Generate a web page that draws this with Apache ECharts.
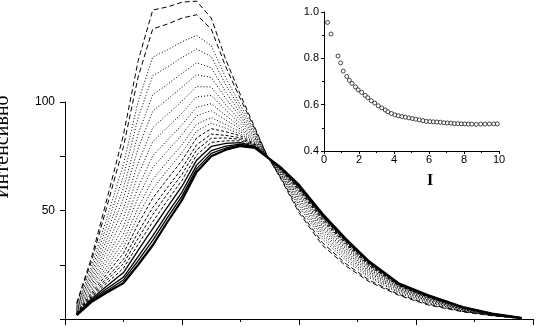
<!DOCTYPE html>
<html>
<head>
<meta charset="utf-8">
<script src="https://cdn.jsdelivr.net/npm/echarts@6/dist/echarts.min.js"></script>
<style>
html,body{margin:0;padding:0;background:#fff;}
#chart{width:536px;height:327px;}
</style>
</head>
<body>
<div id="chart"></div>
<script>
// сетка по оси X (спектры)
var xGrid = [0.2, 0.45, 0.7, 1.0, 1.25, 1.5, 1.75, 2.0, 2.25, 2.5, 2.75, 3.0, 3.25, 3.45, 3.7, 4.0, 4.4, 4.8, 5.2, 5.7, 6.2, 6.8, 7.3, 7.8];

// спектры, от первого (самый высокий) до последнего (жирный)
var spec01 = [7.4, 28.0, 53.5, 85.0, 119.0, 142.4, 143.8, 146.0, 146.5, 138.7, 119.4, 103.2, 88.0, 75.6, 64.0, 49.0, 34.0, 24.5, 17.2, 11.0, 6.5, 3.3, 1.5, 0.2];
var spec02 = [7.0, 26.4, 50.2, 79.5, 111.5, 133.7, 135.9, 138.7, 140.2, 133.6, 116.1, 101.3, 87.3, 75.5, 64.5, 50.0, 35.2, 25.5, 17.9, 11.4, 6.9, 3.5, 1.6, 0.2];
var spec03 = [6.3, 24.0, 45.2, 71.3, 100.2, 120.7, 124.0, 127.8, 130.7, 126.0, 111.1, 98.5, 86.2, 75.4, 65.1, 51.6, 36.9, 27.0, 19.1, 12.1, 7.4, 3.7, 1.7, 0.3];
var spec04 = [5.8, 22.3, 41.9, 65.9, 92.7, 112.1, 116.1, 120.5, 124.4, 120.9, 107.8, 96.6, 85.4, 75.4, 65.6, 52.6, 38.1, 28.0, 19.8, 12.5, 7.8, 3.9, 1.8, 0.3];
var spec05 = [5.4, 20.7, 38.6, 60.4, 85.2, 103.4, 108.1, 113.2, 118.1, 115.8, 104.5, 94.7, 84.7, 75.3, 66.0, 53.6, 39.2, 29.0, 20.6, 13.0, 8.1, 4.1, 1.9, 0.3];
var spec06 = [5.0, 19.3, 35.7, 55.6, 78.6, 95.8, 101.2, 106.8, 112.6, 111.3, 101.6, 93.1, 84.0, 75.2, 66.4, 54.5, 40.2, 29.9, 21.2, 13.4, 8.4, 4.3, 1.9, 0.3];
var spec07 = [4.6, 17.9, 32.8, 50.8, 72.0, 88.2, 94.3, 100.4, 107.1, 106.9, 98.7, 91.5, 83.4, 75.2, 66.8, 55.4, 41.3, 30.8, 21.9, 13.8, 8.8, 4.4, 2.0, 0.4];
var spec08 = [4.3, 16.7, 30.3, 46.7, 66.4, 81.7, 88.3, 94.9, 102.4, 103.0, 96.2, 90.0, 82.9, 75.1, 67.1, 56.2, 42.1, 31.5, 22.4, 14.1, 9.0, 4.5, 2.1, 0.4];
var spec09 = [3.9, 15.5, 27.8, 42.6, 60.7, 75.2, 82.4, 89.5, 97.6, 99.2, 93.7, 88.6, 82.3, 75.0, 67.5, 56.9, 43.0, 32.3, 23.0, 14.4, 9.3, 4.7, 2.1, 0.4];
var spec10 = [3.7, 14.5, 25.7, 39.2, 56.0, 69.8, 77.4, 84.9, 93.7, 96.0, 91.7, 87.5, 81.8, 75.0, 67.8, 57.6, 43.7, 32.9, 23.4, 14.7, 9.5, 4.8, 2.2, 0.4];
var spec11 = [3.4, 13.5, 23.6, 35.8, 51.3, 64.4, 72.5, 80.3, 89.8, 92.8, 89.6, 86.3, 81.4, 75.0, 68.0, 58.2, 44.4, 33.5, 23.9, 15.0, 9.7, 4.9, 2.2, 0.4];
var spec12 = [3.1, 12.7, 22.0, 33.0, 47.6, 60.0, 68.5, 76.7, 86.6, 90.3, 87.9, 85.3, 81.0, 74.9, 68.3, 58.7, 45.0, 34.0, 24.3, 15.2, 9.9, 5.0, 2.3, 0.4];
var spec13 = [2.9, 11.8, 20.3, 30.3, 43.8, 55.7, 64.5, 73.0, 83.5, 87.7, 86.3, 84.4, 80.6, 74.9, 68.5, 59.2, 45.6, 34.5, 24.6, 15.4, 10.1, 5.1, 2.3, 0.4];
var spec14 = [2.7, 11.0, 18.6, 27.5, 40.0, 51.3, 60.6, 69.4, 80.3, 85.2, 84.6, 83.5, 80.3, 74.8, 68.7, 59.8, 46.2, 35.0, 25.0, 15.6, 10.3, 5.2, 2.3, 0.5];
var spec15 = [2.5, 10.4, 17.4, 25.5, 37.2, 48.1, 57.6, 66.7, 77.9, 83.3, 83.4, 82.8, 80.0, 74.8, 68.9, 60.1, 46.6, 35.4, 25.3, 15.8, 10.4, 5.2, 2.4, 0.5];
var spec16 = [2.4, 9.8, 16.2, 23.4, 34.4, 44.8, 54.6, 63.9, 75.6, 81.4, 82.1, 82.1, 79.7, 74.8, 69.0, 60.5, 47.1, 35.8, 25.6, 16.0, 10.6, 5.3, 2.4, 0.5];
var spec17 = [2.2, 9.2, 14.9, 21.4, 31.6, 41.6, 51.6, 61.2, 73.2, 79.5, 80.9, 81.3, 79.4, 74.8, 69.2, 60.9, 47.5, 36.1, 25.9, 16.1, 10.7, 5.4, 2.4, 0.5];
var spec18 = [2.0, 8.6, 13.7, 19.3, 28.8, 38.3, 48.7, 58.5, 70.9, 77.6, 79.7, 80.6, 79.2, 74.7, 69.4, 61.3, 47.9, 36.5, 26.1, 16.3, 10.8, 5.4, 2.5, 0.5];
var spec19 = [1.9, 8.2, 12.8, 18.0, 26.9, 36.2, 46.7, 56.6, 69.3, 76.3, 78.8, 80.2, 79.0, 74.7, 69.5, 61.5, 48.2, 36.8, 26.3, 16.4, 10.9, 5.5, 2.5, 0.5];
var spec20 = [1.8, 7.8, 12.0, 16.6, 25.0, 34.0, 44.7, 54.8, 67.7, 75.0, 78.0, 79.7, 78.8, 74.7, 69.6, 61.8, 48.5, 37.0, 26.5, 16.5, 11.0, 5.5, 2.5, 0.5];

var spectra = [spec01, spec02, spec03, spec04, spec05, spec06, spec07, spec08, spec09, spec10,
               spec11, spec12, spec13, spec14, spec15, spec16, spec17, spec18, spec19, spec20];

// подписи оси Y основного графика
var yLabelsShown = [50, 100];

// врезка
var insetX = [0.2, 0.4, 0.8, 0.95, 1.1, 1.3, 1.45, 1.6, 1.8, 1.95, 2.15, 2.35, 2.5, 2.7, 2.9, 3.1, 3.3, 3.5, 3.65, 3.85,
              4.05, 4.25, 4.45, 4.65, 4.85, 5.05, 5.25, 5.45, 5.65, 5.85, 6.05, 6.25, 6.45, 6.65, 6.85, 7.05, 7.25, 7.45,
              7.65, 7.85, 8.05, 8.25, 8.45, 8.7, 8.95, 9.2, 9.45, 9.7, 9.9];
var insetY = [0.955, 0.905, 0.81, 0.78, 0.745, 0.722, 0.705, 0.692, 0.677, 0.664, 0.653, 0.64, 0.63, 0.617, 0.607, 0.595, 0.586, 0.577, 0.569, 0.562,
              0.556, 0.552, 0.549, 0.546, 0.543, 0.54, 0.537, 0.534, 0.531, 0.528, 0.527, 0.526, 0.525, 0.524, 0.522, 0.521, 0.52, 0.518,
              0.518, 0.517, 0.517, 0.516, 0.516, 0.515, 0.516, 0.516, 0.517, 0.517, 0.517];

//стиль линии по номеру спектра
function lineStyleFor(i){
    if(i < 2) return {color:'#000', width:1, type:[5,3]};
    if(i < 12) return {color:'#000', width:1, type:[1,2]};
    if(i < 16) return {color:'#000', width:1, type:[3,2]};
    if(i < 19) return {color:'#000', width:1.3, type:'solid'};
    return {color:'#000', width:2.2, type:'solid'};
}

var series = [];
spectra.forEach(function(arr, i){
    series.push({
        type:'line',
        xAxisIndex:0,
        yAxisIndex:0,
        data: xGrid.map(function(x, j){ return [x, arr[j]]; }),
        symbol:'none',
        clip:false,
        silent:true,
        lineStyle: lineStyleFor(i)
    });
});
series.push({
    type:'scatter',
    xAxisIndex:1,
    yAxisIndex:1,
    data: insetX.map(function(x, i){ return [x, insetY[i]]; }),
    symbol:'circle',
    symbolSize:4,
    silent:true,
    itemStyle:{color:'#fff', borderColor:'#000', borderWidth:0.9}
});

var chart = echarts.init(document.getElementById('chart'), null, {renderer:'canvas'});
chart.setOption({
    animation:false,
    backgroundColor:'#fff',
    grid:[
        {left:65, right:3, top:102, bottom:8},
        {left:324, top:12, width:175, height:139}
    ],
    xAxis:[
        {
            type:'value', gridIndex:0, min:0, max:8, interval:2,
            axisLine:{show:true, onZero:false, lineStyle:{color:'#000', width:1}},
            axisTick:{show:true, length:6, lineStyle:{color:'#000'}},
            minorTick:{show:true, splitNumber:2, length:3, lineStyle:{color:'#000'}},
            axisLabel:{show:false},
            splitLine:{show:false}
        },
        {
            type:'value', gridIndex:1, min:0, max:10, interval:2,
            axisLine:{show:true, onZero:false, lineStyle:{color:'#000', width:1}},
            axisTick:{show:true, length:3, lineStyle:{color:'#000'}},
            minorTick:{show:true, splitNumber:2, length:2, lineStyle:{color:'#000'}},
            axisLabel:{color:'#000', fontSize:11, fontFamily:'Liberation Sans', margin:3},
            splitLine:{show:false}
        }
    ],
    yAxis:[
        {
            type:'value', gridIndex:0, min:0, max:100, interval:25,
            axisLine:{show:true, onZero:false, lineStyle:{color:'#000', width:1}},
            axisTick:{show:true, length:5, lineStyle:{color:'#000'}},
            axisLabel:{
                color:'#000', fontSize:12, fontFamily:'Liberation Sans', margin:10,
                formatter:function(v){ return yLabelsShown.indexOf(v) >= 0 ? String(v) : ''; }
            },
            splitLine:{show:false}
        },
        {
            type:'value', gridIndex:1, min:0.4, max:1.0, interval:0.2,
            axisLine:{show:true, onZero:false, lineStyle:{color:'#000', width:1}},
            axisTick:{show:true, length:3, lineStyle:{color:'#000'}},
            minorTick:{show:true, splitNumber:2, length:2, lineStyle:{color:'#000'}},
            axisLabel:{
                color:'#000', fontSize:11, fontFamily:'Liberation Sans', margin:5,
                formatter:function(v){ return v.toFixed(1); }
            },
            splitLine:{show:false}
        }
    ],
    graphic:[
        {
            type:'text', x:3, y:147, rotation:Math.PI/2,
            style:{text:'Интенсивно', font:'20px "Liberation Serif"', fill:'#000',
                   textAlign:'center', textVerticalAlign:'middle'}
        },
        {
            type:'text', x:430, y:181,
            style:{text:'I', font:'bold 16px "Liberation Serif"', fill:'#000',
                   textAlign:'center', textVerticalAlign:'middle'}
        }
    ],
    series:series
});
</script>
</body>
</html>
